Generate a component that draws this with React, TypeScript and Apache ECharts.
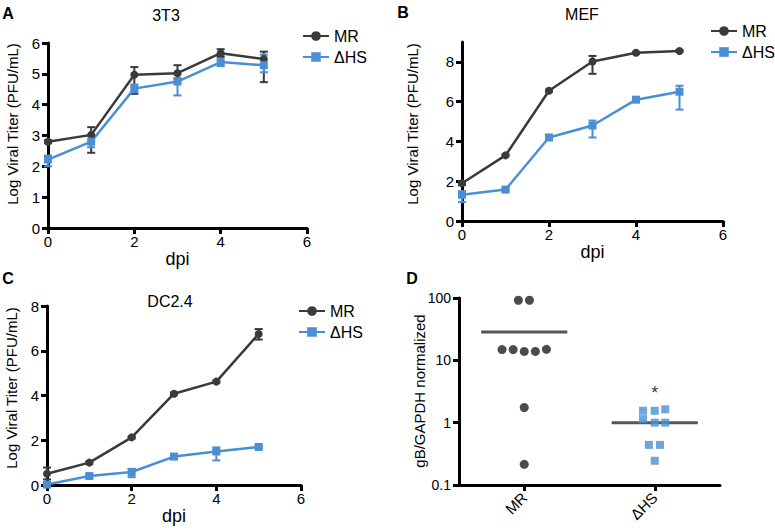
import React, { useEffect, useRef } from "react";
import * as echarts from "echarts";

const FONT = "'Liberation Sans', Arial, Helvetica, sans-serif";
const DARK = "#3a3a3a";
const BLUE = "#4a8fd4";

const dpi = [0, 1, 2, 3, 4, 5];
const seriesNames = ["MR", "ΔHS"];

// Panel A (3T3)
const aMR = [2.8, 3.02, 4.97, 5.02, 5.67, 5.48];
const aMRlo = [2.75, 2.44, 4.35, 4.85, 5.55, 4.73];
const aMRhi = [2.85, 3.27, 5.22, 5.28, 5.8, 5.72];
const aHS = [2.22, 2.8, 4.52, 4.75, 5.38, 5.28];
const aHSlo = [2.0, 2.62, 4.4, 4.3, 5.25, 5.05];
const aHShi = [2.35, 3.0, 4.65, 4.98, 5.62, 5.62];

// Panel B (MEF)
const bMR = [1.9, 3.3, 6.55, 8.02, 8.46, 8.55];
const bMRlo = [1.8, 3.25, 6.5, 7.4, 8.4, 8.5];
const bMRhi = [2.0, 3.35, 6.6, 8.3, 8.5, 8.6];
const bHS = [1.32, 1.58, 4.2, 4.8, 6.1, 6.5];
const bHSlo = [0.95, 1.5, 4.1, 4.2, 6.0, 5.6];
const bHShi = [1.5, 1.65, 4.3, 5.05, 6.2, 6.8];

// Panel C (DC2.4)
const cMR = [0.5, 1.0, 2.13, 4.08, 4.62, 6.75];
const cMRlo = [0.25, 0.95, 2.08, 4.03, 4.57, 6.5];
const cMRhi = [0.78, 1.05, 2.18, 4.13, 4.67, 6.97];
const cHS = [0.02, 0.4, 0.58, 1.27, 1.5, 1.7];
const cHSlo = [0.0, 0.35, 0.35, 1.22, 1.1, 1.65];
const cHShi = [0.05, 0.45, 0.72, 1.32, 1.68, 1.75];

// Panel D (gB/GAPDH)
const dCategories = ["MR", "ΔHS"];
const dMRjitter = [-0.045, 0.04, -0.17, -0.085, 0, 0.085, 0.17, 0, 0];
const dMRvalues = [92, 92, 14.9, 14.9, 13.9, 13.9, 15, 1.75, 0.215];
const dHSjitter = [-0.09, 0, 0.08, -0.09, 0, 0.08, -0.045, 0.04, 0];
const dHSvalues = [1.55, 1.55, 1.64, 1.14, 1.0, 1.0, 0.44, 0.44, 0.245];
const dMeans = [28.6, 1.0];
const dLineHalf = 0.33;
const dAsteriskValue = 3.0;

const yTicksA = [0, 1, 2, 3, 4, 5, 6];
const yTicksB = [0, 2, 4, 6, 8];
const yTicksC = [0, 2, 4, 6, 8];

const axisLine = { show: true, onZero: false, lineStyle: { color: "#000", width: 3 } };
const axisTick = { show: true, length: 6, lineStyle: { color: "#000", width: 3 } };
const axisLabel = { color: "#000", fontSize: 15, fontFamily: FONT };

function errorBars(lo: number[], hi: number[], color: string, idx: number) {
  return {
    type: "custom",
    name: "err" + idx,
    xAxisIndex: idx,
    yAxisIndex: idx,
    coordinateSystem: "cartesian2d",
    z: 3,
    encode: { x: 0, y: [1, 2] },
    data: dpi.map((x, i) => [x, lo[i], hi[i]]),
    renderItem: (params: any, api: any) => {
      const x = api.value(0);
      const pLo = api.coord([x, api.value(1)]);
      const pHi = api.coord([x, api.value(2)]);
      const hw = 4;
      const style = { stroke: color, lineWidth: 2 };
      return {
        type: "group",
        children: [
          { type: "line", shape: { x1: pLo[0], y1: pLo[1], x2: pHi[0], y2: pHi[1] }, style },
          { type: "line", shape: { x1: pLo[0] - hw, y1: pLo[1], x2: pLo[0] + hw, y2: pLo[1] }, style },
          { type: "line", shape: { x1: pHi[0] - hw, y1: pHi[1], x2: pHi[0] + hw, y2: pHi[1] }, style },
        ],
      };
    },
  };
}

function lineSeries(name: string, vals: number[], idx: number) {
  const isMR = name === "MR";
  const color = isMR ? DARK : BLUE;
  return {
    type: "line",
    name,
    xAxisIndex: idx,
    yAxisIndex: idx,
    data: dpi.map((x, i) => [x, vals[i]]),
    symbol: isMR ? "circle" : "rect",
    symbolSize: 8,
    lineStyle: { color, width: 2.5 },
    itemStyle: { color },
    z: 4,
  };
}

function legend(left: number, top: number) {
  return {
    data: seriesNames,
    left,
    top,
    padding: 0,
    orient: "vertical",
    itemWidth: 26,
    itemHeight: 12,
    itemGap: 5,
    selectedMode: false,
    textStyle: { fontSize: 16, color: "#000", fontFamily: FONT },
  };
}

function label(text: string, x: number, y: number, size: number, opts: any = {}) {
  return {
    type: "text",
    x,
    y,
    rotation: opts.rotation || 0,
    style: {
      text,
      fill: "#000",
      font: `${opts.bold ? "bold " : ""}${size}px ${FONT}`,
      textAlign: "center",
      textVerticalAlign: "middle",
    },
  };
}

export default function App() {
  const ref = useRef<HTMLDivElement>(null);
  useEffect(() => {
    if (!ref.current) return;
    const chart = echarts.init(ref.current, null, { renderer: "svg" });
    const valueX = (gridIndex: number) => ({
      type: "value",
      gridIndex,
      min: 0,
      max: 6,
      interval: 2,
      name: "dpi",
      nameLocation: "middle",
      nameGap: 15,
      nameTextStyle: { fontSize: 18, color: "#000", fontFamily: FONT },
      axisLine,
      axisTick,
      axisLabel: { ...axisLabel, margin: 6 },
      splitLine: { show: false },
    });
    const valueY = (gridIndex: number, max: number, ticks: number[]) => ({
      type: "value",
      gridIndex,
      min: 0,
      max,
      interval: ticks[1] - ticks[0],
      axisLine,
      axisTick: { ...axisTick, customValues: ticks },
      axisLabel: { ...axisLabel, margin: 8, customValues: ticks },
      splitLine: { show: false },
    });

    const option: any = {
      animation: false,
      backgroundColor: "#fff",
      textStyle: { fontFamily: FONT },
      grid: [
        { left: 48, top: 43, width: 259, height: 185 },
        { left: 462, top: 42, width: 261, height: 179 },
        { left: 47, top: 306, width: 254, height: 179 },
        { left: 459, top: 298, width: 261, height: 187 },
      ],
      xAxis: [
        valueX(0),
        valueX(1),
        valueX(2),
        {
          type: "category",
          gridIndex: 3,
          data: dCategories,
          boundaryGap: true,
          axisLine,
          axisTick: { ...axisTick, alignWithLabel: true },
          axisLabel: { ...axisLabel, rotate: 45, margin: 10 },
        },
        { type: "value", gridIndex: 3, min: -0.5, max: 1.5, show: false },
      ],
      yAxis: [
        valueY(0, 6, yTicksA),
        valueY(1, 9, yTicksB),
        valueY(2, 8, yTicksC),
        {
          type: "log",
          gridIndex: 3,
          logBase: 10,
          min: 0.1,
          max: 100,
          axisLine,
          axisTick,
          axisLabel: { ...axisLabel, fontSize: 14, margin: 8 },
          splitLine: { show: false },
          minorTick: { show: false },
        },
      ],
      legend: [legend(302, 28), legend(710, 23), legend(298, 303)],
      series: [
        errorBars(aMRlo, aMRhi, DARK, 0),
        errorBars(aHSlo, aHShi, BLUE, 0),
        lineSeries("MR", aMR, 0),
        lineSeries("ΔHS", aHS, 0),
        errorBars(bMRlo, bMRhi, DARK, 1),
        errorBars(bHSlo, bHShi, BLUE, 1),
        lineSeries("MR", bMR, 1),
        lineSeries("ΔHS", bHS, 1),
        errorBars(cMRlo, cMRhi, DARK, 2),
        errorBars(cHSlo, cHShi, BLUE, 2),
        lineSeries("MR", cMR, 2),
        lineSeries("ΔHS", cHS, 2),
        {
          type: "scatter",
          name: "D-MR",
          xAxisIndex: 4,
          yAxisIndex: 3,
          symbol: "circle",
          symbolSize: 9,
          itemStyle: { color: "#1e1e1e" },
          data: dMRvalues.map((v, i) => [0 + dMRjitter[i], v]),
        },
        {
          type: "scatter",
          name: "D-HS",
          xAxisIndex: 4,
          yAxisIndex: 3,
          symbol: "rect",
          symbolSize: 8,
          itemStyle: { color: BLUE },
          data: dHSvalues.map((v, i) => [1 + dHSjitter[i], v]),
        },
        ...dMeans.map((m, i) => ({
          type: "line",
          name: "mean" + i,
          xAxisIndex: 4,
          yAxisIndex: 3,
          symbol: "none",
          lineStyle: { color: "#555", width: 3 },
          data: [
            [i - dLineHalf, m],
            [i + dLineHalf, m],
          ],
          z: 1,
        })),
        {
          type: "scatter",
          name: "asterisk",
          xAxisIndex: 4,
          yAxisIndex: 3,
          symbolSize: 0,
          data: [[1, dAsteriskValue]],
          label: {
            show: true,
            position: "inside",
            formatter: "*",
            fontSize: 18,
            color: "#000",
            fontFamily: FONT,
          },
        },
      ],
      graphic: [
        label("A", 8, 13, 16, { bold: true }),
        label("B", 403, 12, 16, { bold: true }),
        label("C", 8, 278, 16, { bold: true }),
        label("D", 412, 278, 16, { bold: true }),
        label("3T3", 166, 15, 16),
        label("MEF", 582, 14, 16),
        label("DC2.4", 170, 301, 16),
        label("Log Viral Titer (PFU/mL)", 12, 124, 15, { rotation: Math.PI / 2 }),
        label("Log Viral Titer (PFU/mL)", 412, 124, 15, { rotation: Math.PI / 2 }),
        label("Log Viral Titer (PFU/mL)", 11, 388, 15, { rotation: Math.PI / 2 }),
        label("gB/GAPDH normalized", 419, 391, 15, { rotation: Math.PI / 2 }),
      ],
    };
    chart.setOption(option);
    return () => chart.dispose();
  }, []);
  return (
    <div
      ref={ref}
      style={{ position: "absolute", left: 0, top: 0, width: 775, height: 530 }}
    />
  );
}
